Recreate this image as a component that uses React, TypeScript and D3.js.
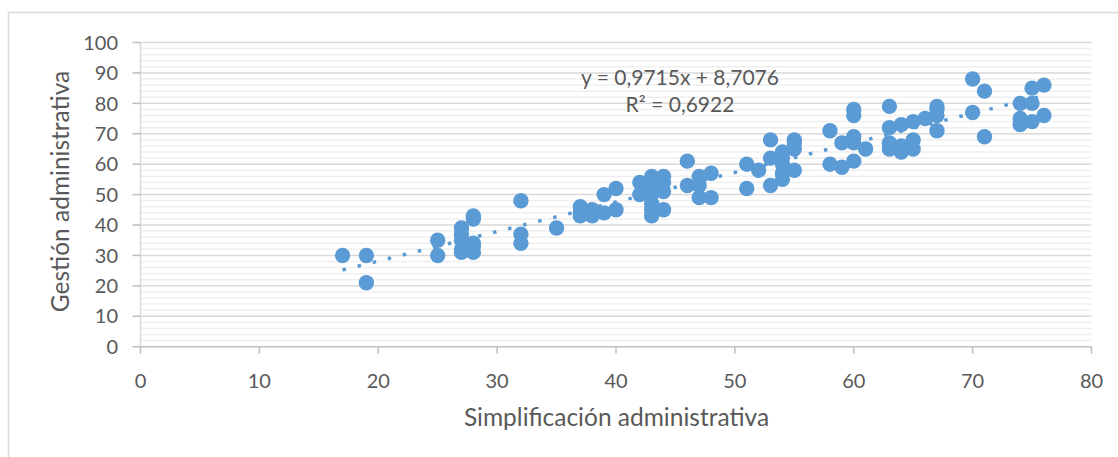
import React from "react";
import * as d3 from "d3";

const xValues: number[] = [
  17, 19, 19, 25, 25, 27, 27, 27, 27, 27, 28, 28, 28, 28, 28, 32, 32, 32, 35,
  37, 37, 37, 38, 38, 39, 39, 40, 40, 42, 42, 43, 43, 43, 43, 43, 43, 44, 44, 44, 44,
  46, 46, 47, 47, 47, 48, 48, 51, 51, 52, 53, 53, 53, 54, 54, 54, 54, 54,
  55, 55, 55, 55, 58, 58, 59, 59, 60, 60, 60, 60, 60, 61, 63, 63, 63, 63,
  64, 64, 64, 65, 65, 65, 66, 67, 67, 67, 67, 70, 70, 71, 71, 74, 74, 74,
  75, 75, 75, 76, 76,
];
const yValues: number[] = [
  30, 30, 21, 35, 30, 39, 37, 35, 32, 31, 43, 42, 34, 33, 31, 48, 37, 34, 39,
  46, 44, 43, 45, 43, 50, 44, 52, 45, 54, 50, 56, 52, 50, 47, 45, 43, 56, 54, 51, 45,
  61, 53, 56, 53, 49, 57, 49, 60, 52, 58, 68, 62, 53, 64, 62, 60, 57, 55,
  68, 67, 65, 58, 71, 60, 67, 59, 78, 76, 69, 67, 61, 65, 79, 72, 67, 65,
  73, 66, 64, 74, 68, 65, 75, 79, 78, 76, 71, 88, 77, 84, 69, 80, 75, 73,
  85, 80, 74, 86, 76,
];

const xTicks: number[] = [0, 10, 20, 30, 40, 50, 60, 70, 80];
const yTicks: number[] = [0, 10, 20, 30, 40, 50, 60, 70, 80, 90, 100];
const yMinorTicks: number[] = d3.range(0, 101, 2).filter((v) => v % 10 !== 0);

const trendSlope = 0.9715;
const trendIntercept = 8.7076;
const equationLines: string[] = ["y = 0,9715x + 8,7076", "R² = 0,6922"];

const xTitle = "Simplificación administrativa";
const yTitle = "Gestión administrativa";

const W = 1118;
const H = 457;
const FONT = "Lato, 'Open Sans', sans-serif";
const TEXT = "#595959";
const BLUE = "#5b9bd5";

export default function App() {
  const x = d3.scaleLinear().domain([0, 80]).range([140.5, 1091.5]);
  const y = d3.scaleLinear().domain([0, 100]).range([346.7, 42.5]);

  const xMin = d3.min(xValues) as number;
  const xMax = d3.max(xValues) as number;
  const trendLine = d3
    .line<number>()
    .x((d) => x(d))
    .y((d) => y(trendSlope * d + trendIntercept));

  const pts = xValues.map((v, i) => ({ x: v, y: yValues[i] }));

  return (
    <svg
      width={W}
      height={H}
      style={{ position: "absolute", left: 0, top: 0, background: "#fff" }}
    >
      <rect x={8.5} y={12.5} width={1300} height={600} fill="#fff" stroke="#d9d9d9" strokeWidth={1.5} />

      {/* minor gridlines */}
      {yMinorTicks.map((t) => (
        <line key={"m" + t} x1={x(0)} x2={x(80)} y1={y(t)} y2={y(t)} stroke="#efefef" strokeWidth={1.5} />
      ))}
      {/* major gridlines */}
      {yTicks.filter((t) => t !== 0).map((t) => (
        <line key={"g" + t} x1={x(0)} x2={x(80)} y1={y(t)} y2={y(t)} stroke="#d9d9d9" strokeWidth={1.5} />
      ))}
      {/* y axis line and ticks */}
      <line x1={x(0)} x2={x(0)} y1={y(0)} y2={y(100)} stroke="#d9d9d9" strokeWidth={1.5} />
      {yTicks.map((t) => (
        <line key={"yt" + t} x1={x(0) - 8} x2={x(0)} y1={y(t)} y2={y(t)} stroke="#bfbfbf" strokeWidth={1.5} />
      ))}
      {/* x axis line and ticks */}
      <line x1={x(0)} x2={x(80)} y1={y(0)} y2={y(0)} stroke="#bfbfbf" strokeWidth={1.5} />
      {xTicks.map((t) => (
        <line key={"xt" + t} x1={x(t)} x2={x(t)} y1={y(0)} y2={y(0) + 7} stroke="#bfbfbf" strokeWidth={1.5} />
      ))}

      {/* tick labels */}
      {yTicks.map((t) => (
        <text key={"yl" + t} x={118} y={y(t)} dy="0.36em" textAnchor="end" fontFamily={FONT} fontSize={20} fill={TEXT}>
          {t}
        </text>
      ))}
      {xTicks.map((t) => (
        <text key={"xl" + t} x={x(t)} y={388} textAnchor="middle" fontFamily={FONT} fontSize={20} fill={TEXT}>
          {t}
        </text>
      ))}

      {/* points */}
      {pts.map((p, i) => (
        <circle key={"p" + i} cx={x(p.x)} cy={y(p.y)} r={7.7} fill={BLUE} />
      ))}

      {/* trendline */}
      <path
        d={trendLine([xMin, xMax]) || ""}
        fill="none"
        stroke={BLUE}
        strokeWidth={3.5}
        strokeDasharray="3.5 12"
      />

      {/* equation */}
      {equationLines.map((s, i) => (
        <text key={"eq" + i} x={680} y={85 + i * 27} textAnchor="middle" fontFamily={FONT} fontSize={21} fill={TEXT}>
          {s}
        </text>
      ))}

      {/* axis titles */}
      <text x={616.5} y={426} textAnchor="middle" fontFamily={FONT} fontSize={24.5} fill={TEXT}>
        {xTitle}
      </text>
      <text
        transform={`translate(69,191.5) rotate(-90)`}
        textAnchor="middle"
        fontFamily={FONT}
        fontSize={24.5}
        fill={TEXT}
      >
        {yTitle}
      </text>
    </svg>
  );
}
